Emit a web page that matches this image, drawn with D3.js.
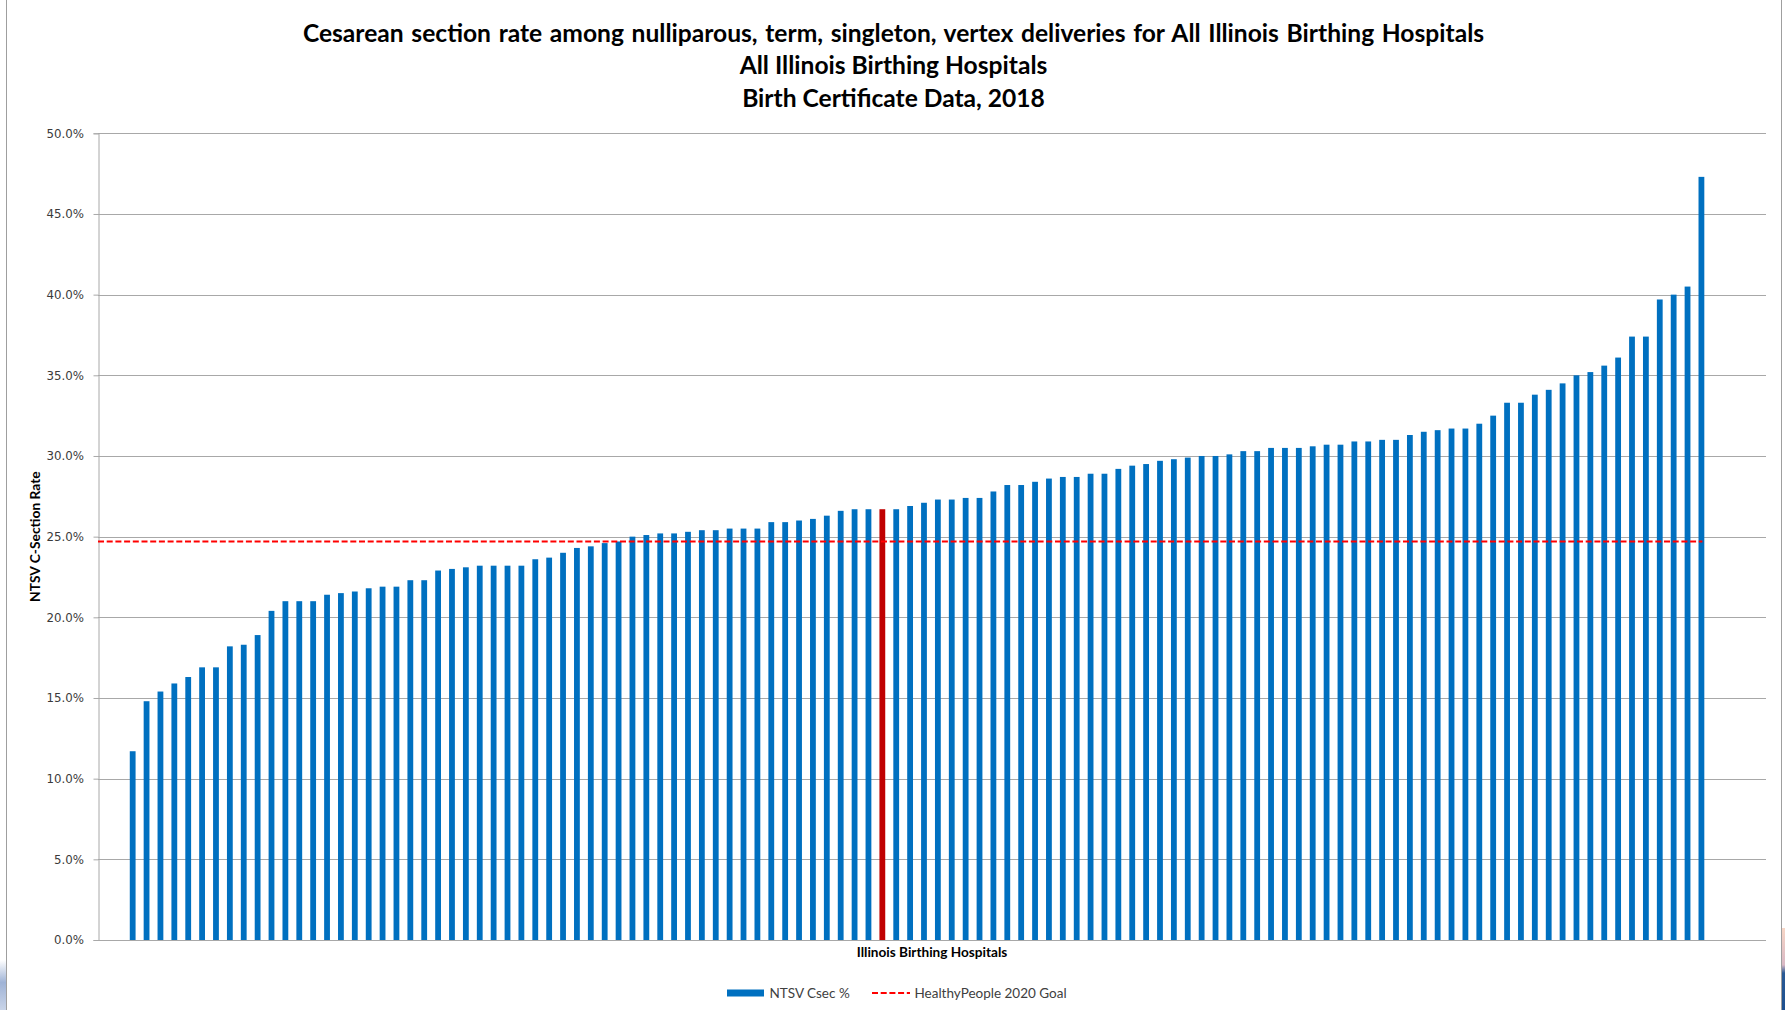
<!DOCTYPE html>
<html>
<head>
<meta charset="utf-8">
<script src="https://cdn.jsdelivr.net/npm/d3@7"></script>
<style>
  html, body { margin: 0; padding: 0; background: #ffffff; }
  svg { display: block; }
</style>
</head>
<body>
<script>
// NTSV cesarean rates (%) per Illinois birthing hospital, sorted ascending
const rates = [
  11.7, 14.8, 15.4, 15.9, 16.3, 16.9, 16.9, 18.2, 18.3, 18.9,
  20.4, 21.0, 21.0, 21.0, 21.4, 21.5, 21.6, 21.8, 21.9, 21.9,
  22.3, 22.3, 22.9, 23.0, 23.1, 23.2, 23.2, 23.2, 23.2, 23.6,
  23.7, 24.0, 24.3, 24.4, 24.6, 24.7, 25.0, 25.1, 25.2, 25.2,
  25.3, 25.4, 25.4, 25.5, 25.5, 25.5, 25.9, 25.9, 26.0, 26.1,
  26.3, 26.6, 26.7, 26.7, 26.7, 26.7, 26.9, 27.1, 27.3, 27.3,
  27.4, 27.4, 27.8, 28.2, 28.2, 28.4, 28.6, 28.7, 28.7, 28.9,
  28.9, 29.2, 29.4, 29.5, 29.7, 29.8, 29.9, 30.0, 30.0, 30.1,
  30.3, 30.3, 30.5, 30.5, 30.5, 30.6, 30.7, 30.7, 30.9, 30.9,
  31.0, 31.0, 31.3, 31.5, 31.6, 31.7, 31.7, 32.0, 32.5, 33.3,
  33.3, 33.8, 34.1, 34.5, 35.0, 35.2, 35.6, 36.1, 37.4, 37.4,
  39.7, 40.0, 40.5, 47.3
];
// Hospital identifiers (not labelled on the axis)
const hospitals = rates.map((_, i) => "H" + String(i + 1).padStart(3, "0"));
// Hospital shown in red
const highlighted = ["H055"];
// HealthyPeople 2020 goal (%)
const goalRate = 24.7;
// Y-axis tick values (%)
const yTicks = [0, 5, 10, 15, 20, 25, 30, 35, 40, 45, 50];

const titleLines = [
  "Cesarean section rate among nulliparous, term, singleton, vertex deliveries for All Illinois Birthing Hospitals",
  "All Illinois Birthing Hospitals",
  "Birth Certificate Data, 2018"
];
const yAxisTitle = "NTSV C-Section Rate";
const xAxisTitle = "Illinois Birthing Hospitals";
const legendLabels = ["NTSV Csec %", "HealthyPeople 2020 Goal"];

const W = 1785, H = 1010;
const plot = { left: 98, right: 1766, top: 133.3, bottom: 940 };
const barBlue = "#0070C0", barRed = "#C00000", gridGray = "#a8a8a8";
const titleFont = "Lato, 'Open Sans', sans-serif";

const svg = d3.select("body").append("svg")
  .attr("width", W).attr("height", H)
  .attr("viewBox", `0 0 ${W} ${H}`);

svg.append("rect").attr("width", W).attr("height", H).attr("fill", "#ffffff");

// Chart frame edges
svg.append("line").attr("x1", 6.5).attr("x2", 6.5).attr("y1", 0).attr("y2", H)
  .attr("stroke", "#9f9f9f").attr("stroke-width", 1);
svg.append("line").attr("x1", 1781.5).attr("x2", 1781.5).attr("y1", 0).attr("y2", H)
  .attr("stroke", "#9f9f9f").attr("stroke-width", 1);

// Desktop backdrop visible at the lower corners
const defs = svg.append("defs");
const lg = defs.append("linearGradient").attr("id", "cornerL").attr("x1", 0).attr("y1", 0).attr("x2", 0).attr("y2", 1);
lg.append("stop").attr("offset", "0%").attr("stop-color", "#ffffff");
lg.append("stop").attr("offset", "45%").attr("stop-color", "#9fb3d6");
lg.append("stop").attr("offset", "100%").attr("stop-color", "#c9d4e8");
svg.append("rect").attr("x", 0).attr("y", 960).attr("width", 6).attr("height", 50).attr("fill", "url(#cornerL)");
const rg = defs.append("linearGradient").attr("id", "cornerR").attr("x1", 0).attr("y1", 0).attr("x2", 0).attr("y2", 1);
rg.append("stop").attr("offset", "0%").attr("stop-color", "#f7d6c6");
rg.append("stop").attr("offset", "45%").attr("stop-color", "#d9b8c4");
rg.append("stop").attr("offset", "55%").attr("stop-color", "#2a5a95");
rg.append("stop").attr("offset", "100%").attr("stop-color", "#1d4f8e");
svg.append("rect").attr("x", 1782).attr("y", 928).attr("width", 3).attr("height", 82).attr("fill", "url(#cornerR)");

// Scales
const x = d3.scaleBand()
  .domain(hospitals)
  .range([plot.left, plot.right])
  .paddingInner(0.582)
  .paddingOuter(3.366)
  .align(0.34);

const y = d3.scaleLinear()
  .domain([0, 50])
  .range([plot.bottom, plot.top]);

// Horizontal gridlines
svg.append("g").selectAll("line")
  .data(yTicks.filter(d => d > 0))
  .join("line")
  .attr("x1", plot.left).attr("x2", plot.right)
  .attr("y1", d => Math.round(y(d)) + 0.5).attr("y2", d => Math.round(y(d)) + 0.5)
  .attr("stroke", gridGray).attr("stroke-width", 1);

// Y axis
const yAxis = svg.append("g")
  .attr("transform", `translate(${plot.left + 0.5},0)`)
  .call(d3.axisLeft(y).tickValues(yTicks).tickSize(5).tickPadding(9.5)
    .tickFormat(d => d3.format(".1f")(d) + "%"));
yAxis.select(".domain").attr("stroke", gridGray);
yAxis.selectAll(".tick line").attr("stroke", gridGray);
yAxis.selectAll(".tick text")
  .attr("font-family", "'DejaVu Sans', Verdana, sans-serif")
  .attr("font-size", 11.8)
  .attr("fill", "#3a3a3a");

// Bars
svg.append("g").selectAll("rect")
  .data(rates.map((v, i) => ({ id: hospitals[i], v })))
  .join("rect")
  .attr("x", d => x(d.id))
  .attr("width", x.bandwidth())
  .attr("y", d => y(d.v))
  .attr("height", d => y(0) - y(d.v))
  .attr("fill", d => highlighted.includes(d.id) ? barRed : barBlue);

// Category axis baseline
svg.append("line")
  .attr("x1", plot.left).attr("x2", plot.right)
  .attr("y1", Math.round(y(0)) + 0.5).attr("y2", Math.round(y(0)) + 0.5)
  .attr("stroke", gridGray).attr("stroke-width", 1);

// HealthyPeople 2020 goal line
const lastId = hospitals[hospitals.length - 1];
svg.append("line")
  .attr("x1", plot.left)
  .attr("x2", x(lastId) + x.bandwidth() / 2 + 1)
  .attr("y1", y(goalRate)).attr("y2", y(goalRate))
  .attr("stroke", "#ff0000").attr("stroke-width", 2.2)
  .attr("stroke-dasharray", "6,2.7");

// Title
svg.append("g").selectAll("text")
  .data(titleLines)
  .join("text")
  .attr("x", 893.5)
  .attr("y", (d, i) => 41.7 + i * 32.5)
  .attr("text-anchor", "middle")
  .attr("font-family", titleFont)
  .attr("font-weight", "bold")
  .attr("font-size", 24.6)
  .attr("word-spacing", (d, i) => i === 0 ? 1.7 : 0)
  .attr("fill", "#000000")
  .text(d => d);

// Axis titles
svg.append("text")
  .attr("transform", `translate(39.5,${(plot.top + plot.bottom) / 2}) rotate(-90)`)
  .attr("text-anchor", "middle")
  .attr("font-family", titleFont)
  .attr("font-weight", "bold")
  .attr("font-size", 13.8)
  .attr("fill", "#000000")
  .text(yAxisTitle);

svg.append("text")
  .attr("x", (plot.left + plot.right) / 2)
  .attr("y", 956.5)
  .attr("text-anchor", "middle")
  .attr("font-family", titleFont)
  .attr("font-weight", "bold")
  .attr("font-size", 13.6)
  .attr("fill", "#000000")
  .text(xAxisTitle);

// Legend
const legend = svg.append("g").attr("font-family", titleFont).attr("font-size", 13.5).attr("fill", "#404040");
legend.append("rect").attr("x", 727).attr("y", 989.5).attr("width", 37).attr("height", 7).attr("fill", barBlue);
legend.append("text").attr("x", 769.5).attr("y", 997.5).text(legendLabels[0]);
legend.append("line").attr("x1", 872).attr("x2", 910).attr("y1", 993).attr("y2", 993)
  .attr("stroke", "#ff0000").attr("stroke-width", 2.2).attr("stroke-dasharray", "6,2.7");
legend.append("text").attr("x", 914.5).attr("y", 997.5).text(legendLabels[1]);
</script>
</body>
</html>
